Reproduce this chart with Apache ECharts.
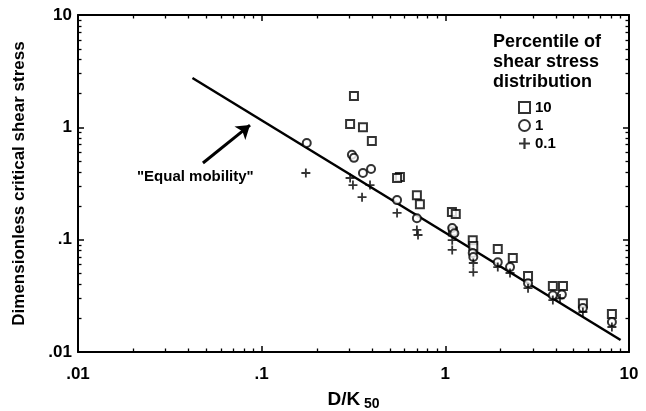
<!DOCTYPE html>
<html>
<head>
<meta charset="utf-8">
<script src="https://cdn.jsdelivr.net/npm/echarts@6/dist/echarts.min.js"></script>
<style>html,body{margin:0;padding:0;background:#fff}#c{width:646px;height:411px}</style>
</head>
<body>
<div id="c"></div>
<script>
// ---- data ----
var tickText = {"0.01": ".01", "0.1": ".1", "1": "1", "10": "10"};
var seriesNames = ["10", "1", "0.1"];
var p10 = [[0.318,1.90],[0.303,1.07],[0.356,1.0],[0.398,0.755],[0.566,0.361],[0.546,0.354],[0.70,0.249],[0.727,0.207],[1.086,0.176],[1.14,0.169],[1.10,0.118],[1.41,0.099],[1.42,0.088],[1.93,0.0825],[2.33,0.0685],[2.82,0.0474],[3.85,0.0386],[4.37,0.0386],[5.61,0.0272],[8.07,0.0218]];
var p1 = [[0.176,0.724],[0.31,0.57],[0.318,0.535],[0.356,0.392],[0.394,0.426],[0.546,0.225],[0.70,0.155],[1.09,0.127],[1.12,0.114],[1.41,0.076],[1.42,0.070],[1.93,0.063],[2.25,0.057],[2.82,0.041],[3.85,0.032],[4.31,0.0325],[5.61,0.0246],[8.07,0.0185]];
var p01 = [[0.174,0.392],[0.303,0.354],[0.314,0.306],[0.352,0.239],[0.389,0.306],[0.546,0.173],[0.70,0.122],[0.71,0.11],[1.09,0.099],[1.09,0.081],[1.42,0.062],[1.42,0.0515],[1.93,0.057],[2.25,0.0505],[2.82,0.037],[3.85,0.029],[4.21,0.030],[5.61,0.0227],[8.07,0.0167]];
var equalMobility = [[0.042,2.75],[9.0,0.0128]];
var arrowFrom = [0.0479,0.481];
var arrowTo = [0.0864,1.048];

var FONT = '"Liberation Sans", Arial, sans-serif';
var plusPath = 'path://M4,0H6V4H10V6H6V10H4V6H0V4H4Z';

function logAxis(pos, opts) {
  var a = {
    type: 'log', logBase: 10, min: 0.01, max: 10, position: pos,
    axisLine: {show: true, onZero: false, lineStyle: {color: '#000', width: 2}},
    axisTick: {show: true, inside: true, length: 6, lineStyle: {color: '#000', width: 1.5}},
    minorTick: {show: true, splitNumber: 9, length: 3.5, lineStyle: {color: '#000', width: 1.3}},
    axisLabel: {show: false},
    splitLine: {show: false},
    minorSplitLine: {show: false}
  };
  for (var k in opts) a[k] = opts[k];
  return a;
}
var labelStyle = {
  show: true, color: '#000', fontFamily: FONT, fontWeight: 'bold', fontSize: 17,
  formatter: function (v) { return tickText[String(v)] || String(v); }
};
var nameStyle = {color: '#000', fontFamily: FONT, fontWeight: 'bold', fontSize: 17};

var chart = echarts.init(document.getElementById('c'), null, {renderer: 'canvas'});
chart.setOption({
  animation: false,
  backgroundColor: '#fff',
  grid: {left: 78, right: 17, top: 15, bottom: 59, containLabel: false, outerBoundsMode: 'none'},
  xAxis: [
    logAxis('bottom', {
      axisLabel: Object.assign({}, labelStyle, {margin: 14}),
      name: '{a|D/K}{b| 50}', nameLocation: 'middle', nameGap: 36,
      nameTextStyle: {rich: {
        a: {color: '#000', fontFamily: FONT, fontWeight: 'bold', fontSize: 19},
        b: {color: '#000', fontFamily: FONT, fontWeight: 'bold', fontSize: 14, padding: [9, 0, 0, 0]}
      }}
    }),
    logAxis('top', {})
  ],
  yAxis: [
    logAxis('left', {
      axisLabel: Object.assign({}, labelStyle, {margin: 6}),
      name: 'Dimensionless critical shear stress', nameLocation: 'middle', nameGap: 50,
      nameTextStyle: nameStyle
    }),
    logAxis('right', {})
  ],
  legend: {
    orient: 'vertical', left: 513, top: 95, itemWidth: 11, itemHeight: 11, itemGap: 3,
    textStyle: {color: '#000', fontFamily: FONT, fontWeight: 'bold', fontSize: 15},
    data: seriesNames
  },
  graphic: [
    {type: 'text', left: 493, top: 32, style: {text: 'Percentile of\nshear stress\ndistribution', fill: '#000', font: 'bold 18px ' + FONT, lineHeight: 20}},
    {type: 'text', left: 137, top: 169, style: {text: '"Equal mobility"', fill: '#000', font: 'bold 15px ' + FONT}}
  ],
  series: [
    {name: 'Equal mobility line', type: 'line', data: equalMobility, symbol: 'none', silent: true,
     lineStyle: {color: '#000', width: 2.5},
     markLine: {silent: true, symbol: ['none', 'arrow'], symbolSize: 13, label: {show: false},
       lineStyle: {color: '#000', width: 3, type: 'solid'},
       data: [[{coord: arrowFrom}, {coord: arrowTo}]]}},
    {name: seriesNames[0], type: 'scatter', data: p10, symbol: 'rect', symbolSize: 8,
     itemStyle: {color: '#fff', borderColor: '#000', borderWidth: 2}, z: 3},
    {name: seriesNames[1], type: 'scatter', data: p1, symbol: 'circle', symbolSize: 8,
     itemStyle: {color: '#fff', borderColor: '#000', borderWidth: 2}, z: 4},
    {name: seriesNames[2], type: 'scatter', data: p01, symbol: plusPath, symbolSize: 9,
     itemStyle: {color: '#000'}, z: 5}
  ]
});
</script>
</body>
</html>
